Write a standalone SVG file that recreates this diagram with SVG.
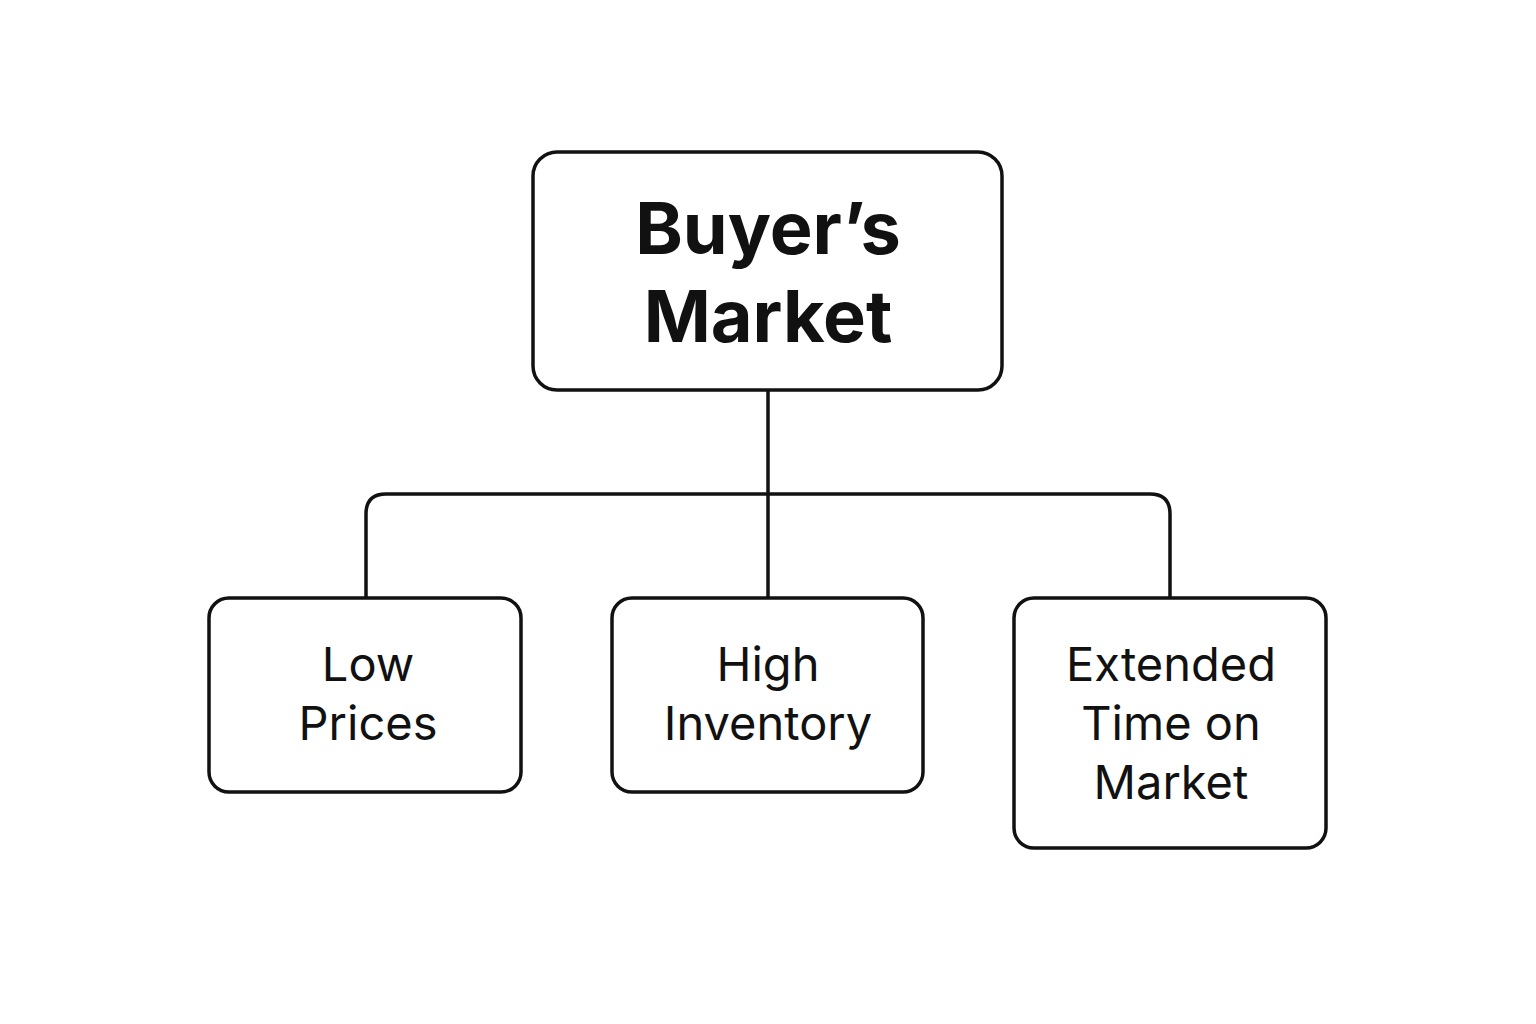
<svg xmlns="http://www.w3.org/2000/svg" width="1536" height="1024" viewBox="0 0 1536 1024">
<style>
.box{fill:#fff;stroke:#111;stroke-width:3.5}
.ln{fill:none;stroke:#111;stroke-width:3.5}
text{font-family:Inter,"Noto Sans",sans-serif;fill:#111;text-anchor:middle}
.t{font-size:72px;font-weight:700}
.s{font-size:47px}
</style>
<rect width="1536" height="1024" fill="#fff"/>
<g id="connectors">
<path class="ln" d="M768 390V598"/>
<path class="ln" d="M366 598V514Q366 494 386 494H1150Q1170 494 1170 514V598"/>
</g>
<g id="root"><rect class="box" x="533" y="152" width="469" height="238" rx="24"/>
<text class="t" x="768" y="254">Buyer’s</text><text class="t" x="768" y="342">Market</text></g>
<g id="low"><rect class="box" x="209" y="598" width="312" height="194" rx="20"/>
<text class="s" x="368" y="681">Low</text><text class="s" x="368" y="740">Prices</text></g>
<g id="high"><rect class="box" x="612" y="598" width="311" height="194" rx="20"/>
<text class="s" x="768" y="681">High</text><text class="s" x="768" y="740">Inventory</text></g>
<g id="ext"><rect class="box" x="1014" y="598" width="312" height="250" rx="20"/>
<text class="s" x="1171" y="681">Extended</text><text class="s" x="1171" y="740">Time on</text><text class="s" x="1171" y="799">Market</text></g>
</svg>
